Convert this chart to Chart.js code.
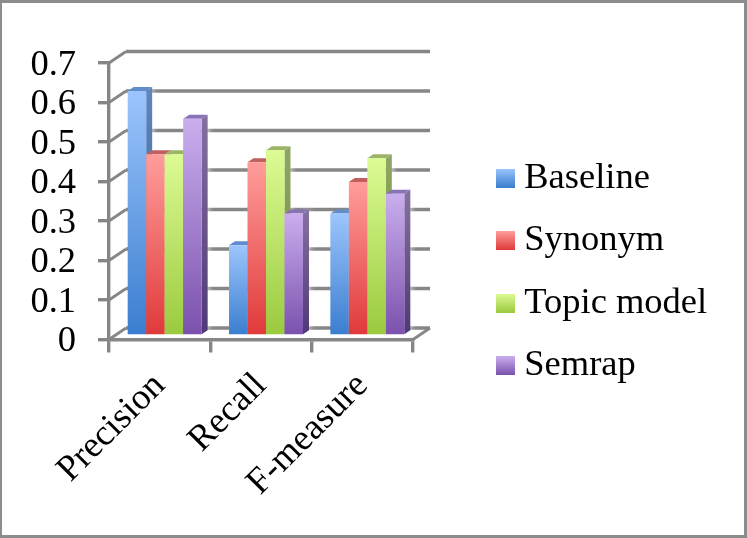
<!DOCTYPE html>
<html><head><meta charset="utf-8">
<style>html,body{margin:0;padding:0;background:#fff}canvas{display:block}</style>
<script src="https://cdn.jsdelivr.net/npm/chart.js@4"></script></head>
<body><canvas id="c" width="747" height="538"></canvas>
<script>
const categories = ['Precision', 'Recall', 'F-measure'];
const seriesNames = ['Baseline', 'Synonym', 'Topic model', 'Semrap'];
const baseline = [0.62, 0.23, 0.31];
const synonym = [0.46, 0.44, 0.39];
const topicModel = [0.46, 0.47, 0.45];
const semrap = [0.55, 0.31, 0.36];
const yTicks = [0, 0.1, 0.2, 0.3, 0.4, 0.5, 0.6, 0.7];
const faceTop = ['#9cc5fc', '#ff9d9b', '#dcfb94', '#caaeee'];
const faceBottom = ['#3a7dcf', '#e0393a', '#9aca3e', '#7a50ac'];
const sideTop = ['#5f86bd', '#b86a68', '#8fa566', '#84709f'];
const sideBottom = ['#2f5a96', '#a02c2a', '#6f8f2e', '#4f3878'];
const roofColor = ['#5f8ccb', '#c25f5f', '#9bb566', '#8a72b6'];

const FONT = 'Liberation Serif';
const GRAY = '#868686';
const WALL = {dx: 17, dy: -11.5};
const BAR = {dx: 5, dy: -3.5, sx: 6, sy: -4};

function faceGradient(c) {
  const y = c.chart.scales.y;
  const g = c.chart.ctx.createLinearGradient(0, y.getPixelForValue(c.raw), 0, y.getPixelForValue(0));
  g.addColorStop(0, faceTop[c.datasetIndex]);
  g.addColorStop(1, faceBottom[c.datasetIndex]);
  return g;
}
function swatch(i) {
  const cv = document.createElement('canvas');
  cv.width = 19; cv.height = 19;
  const x = cv.getContext('2d');
  const g = x.createLinearGradient(0, 0, 0, 19);
  g.addColorStop(0, faceTop[i]); g.addColorStop(1, faceBottom[i]);
  x.fillStyle = g; x.fillRect(0, 0, 19, 19);
  return cv;
}
const depth3d = {
  id: 'depth3d',
  beforeLayout(chart) {
    const lg = chart.legend;
    if (lg && !lg._patched) {
      const fit = lg.fit.bind(lg);
      lg.fit = function () { fit(); this.width = 334; this.minSize = {width: 334, height: this.height}; };
      lg._patched = true;
    }
  },
  afterLayout(chart) {
    chart.legend.left = 504 - chart.options.plugins.legend.labels.padding;
    chart.legend.top = 6;
    chart.legend.bottom = 538;
  },
  beforeDraw(chart) {
    if (chart._yShifted) return;
    chart.scales.y.getLabelItems().forEach(it => { it.options.translation[1] += 2; });
    chart._yShifted = true;
  },
  beforeDatasetsDraw(chart) {
    const {ctx, scales: {x, y}} = chart;
    const L = x.left, R = x.right;
    ctx.save();
    ctx.strokeStyle = GRAY;
    yTicks.forEach(v => {
      const p = y.getPixelForValue(v);
      ctx.lineWidth = 3.4;
      ctx.beginPath(); ctx.moveTo(L + WALL.dx, p + WALL.dy); ctx.lineTo(R + WALL.dx, p + WALL.dy); ctx.stroke();
      ctx.lineWidth = 2.8;
      ctx.beginPath(); ctx.moveTo(L, p); ctx.lineTo(L + WALL.dx, p + WALL.dy); ctx.stroke();
    });
    const b = y.getPixelForValue(0);
    ctx.beginPath(); ctx.moveTo(R, b); ctx.lineTo(R + WALL.dx, b + WALL.dy); ctx.stroke();
    ctx.restore();

    chart.data.datasets.forEach((ds, di) => {
      const meta = chart.getDatasetMeta(di);
      meta.data.forEach(el => {
        const r = el.x + el.width / 2 + BAR.dx, l = el.x - el.width / 2 + BAR.dx;
        const t = el.y + BAR.dy, bt = el.base + BAR.dy;
        ctx.save();
        ctx.shadowColor = 'rgba(255,255,255,0.95)'; ctx.shadowBlur = 6;
        const sg = ctx.createLinearGradient(0, t, 0, bt);
        sg.addColorStop(0, sideTop[di]); sg.addColorStop(1, sideBottom[di]);
        ctx.fillStyle = sg;
        ctx.beginPath();
        ctx.moveTo(r, t); ctx.lineTo(r + BAR.sx, t + BAR.sy); ctx.lineTo(r + BAR.sx, bt + BAR.sy); ctx.lineTo(r, bt);
        ctx.closePath(); ctx.fill();
        ctx.shadowBlur = 0;
        ctx.fillStyle = roofColor[di];
        ctx.beginPath();
        ctx.moveTo(l, t); ctx.lineTo(l + BAR.sx, t + BAR.sy); ctx.lineTo(r + BAR.sx, t + BAR.sy); ctx.lineTo(r, t);
        ctx.closePath(); ctx.fill();
        ctx.translate(BAR.dx, BAR.dy);
        el.draw(ctx);
        ctx.restore();
      });
    });
    return false;
  },
  afterDraw(chart) {
    const {ctx, width, height} = chart;
    ctx.save();
    ctx.strokeStyle = '#8c8c8c';
    ctx.lineWidth = 3;
    ctx.strokeRect(0.5, 1.5, width - 2, height - 3);
    ctx.restore();
  }
};

new Chart(document.getElementById('c'), {
  type: 'bar',
  data: {
    labels: categories,
    datasets: [baseline, synonym, topicModel, semrap].map((d, i) => ({
      label: seriesNames[i], data: d, backgroundColor: faceGradient, borderWidth: 0,
      categoryPercentage: 0.73, barPercentage: 1
    }))
  },
  options: {
    responsive: false,
    animation: false,
    layout: {padding: {top: 63, left: 0, right: 0, bottom: 0}},
    plugins: {
      tooltip: {enabled: false},
      legend: {
        position: 'right',
        labels: {
          color: '#000', font: {family: FONT, size: 36.5}, padding: 26,
          usePointStyle: true, boxWidth: 2, boxHeight: 18,
          generateLabels: () => seriesNames.map((n, i) => ({text: n, pointStyle: swatch(i), datasetIndex: i, fontColor: '#000', lineWidth: 0}))
        }
      }
    },
    scales: {
      x: {
        afterFit(s) { s.height = 198.5; },
        grid: {drawOnChartArea: false, color: GRAY, lineWidth: 3.4, tickLength: 13, offset: true},
        border: {color: GRAY, width: 3.4},
        ticks: {color: '#000', font: {family: FONT, size: 36.5}, minRotation: 45, maxRotation: 45, padding: 12, autoSkip: false}
      },
      y: {
        min: 0, max: 0.7,
        afterFit(s) { s.width = 109; },
        afterBuildTicks(s) { s.ticks = yTicks.map(v => ({value: v})); },
        grid: {drawOnChartArea: false, color: GRAY, lineWidth: 3.4, tickLength: 11},
        border: {color: GRAY, width: 3.4},
        ticks: {color: '#000', font: {family: FONT, size: 36.5}, padding: 22, autoSkip: false, callback: v => String(v)}
      }
    }
  },
  plugins: [depth3d]
});
</script></body></html>
